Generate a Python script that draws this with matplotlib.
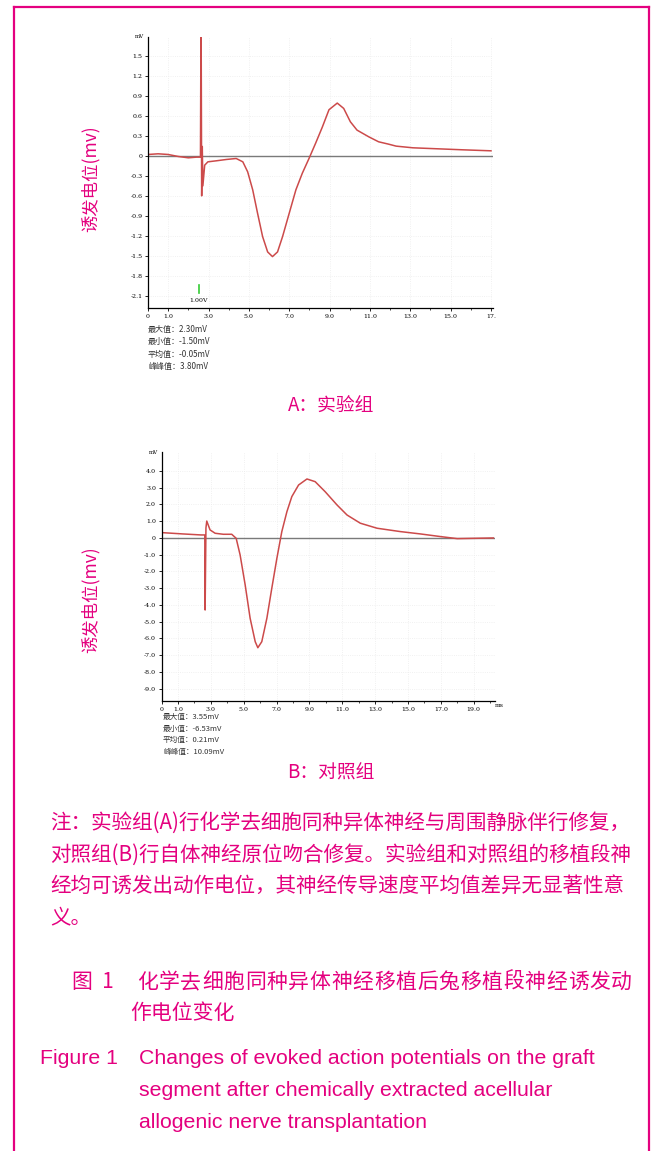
import numpy as np
import matplotlib
matplotlib.use("Agg")
import matplotlib.pyplot as plt
from matplotlib.lines import Line2D

plt.rcParams['font.family'] = ['Noto Sans CJK SC', 'DejaVu Sans']

# --- data ---
# A: experimental group
time_a = [0, 0.5, 1.0, 1.5, 2.0, 2.4, 2.6, 2.63, 2.66, 2.69, 2.72, 2.81, 2.97, 3.38, 3.88,
          4.37, 4.70, 4.94, 5.19, 5.43, 5.68, 5.93, 6.17, 6.42, 6.67, 7.0, 7.33, 7.65,
          7.98, 8.31, 8.64, 8.97, 9.38, 9.7, 10.03, 10.36, 10.94, 11.43, 11.92, 12.3,
          13.13, 13.95, 15.6, 17.0]
volt_a = [0.02, 0.03, 0.02, -0.01, -0.03, -0.02, -0.02, 2.30, -0.60, 0.14, -0.45, -0.14,
          -0.09, -0.075, -0.055, -0.04, -0.09, -0.24, -0.51, -0.86, -1.21, -1.44, -1.51,
          -1.44, -1.21, -0.86, -0.51, -0.26, -0.04, 0.19, 0.43, 0.69, 0.79, 0.71, 0.51,
          0.385, 0.285, 0.21, 0.175, 0.145, 0.12, 0.11, 0.09, 0.075]
yticks_a = [1.5, 1.2, 0.9, 0.6, 0.3, 0, -0.3, -0.6, -0.9, -1.2, -1.5, -1.8, -2.1]
xticks_a = [0, 1, 3, 5, 7, 9, 11, 13, 15, 17]
xlabels_a = ['0', '1.0', '3.0', '5.0', '7.0', '9.0', '11.0', '13.0', '15.0', '17.']
stats_a = ['最大值：2.30mV', '最小值：-1.50mV', '平均值：-0.05mV', '峰峰值：3.80mV']

# B: control group
time_b = [0, 1.3, 2.4, 2.63, 2.65, 2.7, 2.75, 2.95, 3.26, 3.76, 4.27, 4.54, 4.78, 5.09,
          5.39, 5.7, 5.86, 6.1, 6.41, 6.71, 7.02, 7.32, 7.63, 7.93, 8.34, 8.85, 9.35,
          9.96, 10.68, 11.29, 12.1, 13.12, 14.54, 15.76, 17.0, 18.0, 20.2]
volt_b = [0.32, 0.24, 0.18, 0.18, -4.3, 0.6, 1.01, 0.48, 0.28, 0.22, 0.22, -0.02, -1.01,
          -2.81, -4.79, -6.19, -6.55, -6.19, -4.79, -3.0, -1.21, 0.38, 1.57, 2.47, 3.16,
          3.52, 3.36, 2.76, 1.97, 1.37, 0.88, 0.58, 0.38, 0.24, 0.08, -0.04, 0.0]
yticks_b = [4, 3, 2, 1, 0, -1, -2, -3, -4, -5, -6, -7, -8, -9]
xticks_b = [0, 1, 3, 5, 7, 9, 11, 13, 15, 17, 19]
xlabels_b = ['0', '1.0', '3.0', '5.0', '7.0', '9.0', '11.0', '13.0', '15.0', '17.0', '19.0']
stats_b = ['最大值：3.55mV', '最小值：-6.53mV', '平均值：0.21mV', '峰峰值：10.09mV']

PINK = '#E4007F'
W, H = 653, 1151

fig = plt.figure(figsize=(W / 100, H / 100), dpi=100)


def fx(px):
    return px / W


def fy(py):
    return 1 - py / H


# page frame
for xs, ys in [([14, 14], [7, H + 5]), ([14, 649], [7, 7]), ([649, 649], [7, H + 5])]:
    fig.add_artist(Line2D([fx(x) for x in xs], [fy(y) for y in ys], color=PINK, lw=1.6))


def trace(box, t, v, ylim, xlim, yt, xt, xl, ylab_fmt):
    ax = fig.add_axes([fx(box[0]), fy(box[3]), fx(box[2] - box[0]), (box[3] - box[1]) / H])
    ax.axhline(0, color='#7a7a7a', lw=1.0, zorder=1)
    ax.plot(t, v, color='#cc4a4a', lw=1.1, zorder=2)
    ax.set_xlim(*xlim)
    ax.set_ylim(*ylim)
    for s in ['top', 'right']:
        ax.spines[s].set_visible(False)
    for s in ['left', 'bottom']:
        ax.spines[s].set_linewidth(0.9)
    ax.set_yticks(yt)
    ax.set_yticklabels([ylab_fmt(y) for y in yt], family='DejaVu Serif', fontsize=4.5)
    ax.set_xticks(xt)
    ax.set_xticklabels(xl, family='DejaVu Serif', fontsize=4.5)
    ax.set_xticks(np.arange(0, xlim[1], 1.0), minor=True)
    ax.tick_params(length=2, width=0.6, pad=2)
    ax.tick_params(which='minor', length=1.5, width=0.5)
    ax.grid(True, color='#ececec', ls=':', lw=0.6)
    ax.set_axisbelow(True)
    ax.text(-0.012, 1.0, 'mV', transform=ax.transAxes, ha='right', va='center',
            fontsize=4, family='DejaVu Serif')
    return ax


ax_a = trace((148, 37, 493, 308), time_a, volt_a, (-2.28, 1.78), (0, 17.1),
             yticks_a, xticks_a, xlabels_a, lambda y: '0' if y == 0 else f'{y:.1f}')
ax_a.plot([2.51, 2.51], [-1.94, -2.06], color='#33cc33', lw=1.2)
ax_a.text(2.51, -2.13, '1.00V', ha='center', va='top', fontsize=4.5, family='DejaVu Serif')

ax_b = trace((161.6, 452, 495, 701), time_b, volt_b, (-9.73, 5.13), (0, 20.3),
             yticks_b, xticks_b, xlabels_b, lambda y: '0' if y == 0 else f'{y:.1f}')
ax_b.text(1.0, -0.01, 'ms', transform=ax_b.transAxes, ha='left', va='top',
          fontsize=4.5, family='DejaVu Serif')

# stats blocks
for i, s in enumerate(stats_a):
    fig.text(fx(148), fy(329 + i * 12.5), s, fontsize=5.8, va='center', color='#333333')
for i, s in enumerate(stats_b):
    fig.text(fx(163), fy(717 + i * 11.7), s, fontsize=5.5, va='center', color='#333333')

# y labels and panel captions
fig.text(fx(90), fy(179), '诱发电位(mv)', rotation=90, ha='center', va='center',
         fontsize=12.5, color=PINK)
fig.text(fx(90), fy(600), '诱发电位(mv)', rotation=90, ha='center', va='center',
         fontsize=12.5, color=PINK)
fig.text(fx(331), fy(406), 'A：实验组', ha='center', va='center', fontsize=13.5, color=PINK)
fig.text(fx(331), fy(773), 'B：对照组', ha='center', va='center', fontsize=13.5, color=PINK)

# notes
notes = ['注：实验组(A)行化学去细胞同种异体神经与周围静脉伴行修复，',
         '对照组(B)行自体神经原位吻合修复。实验组和对照组的移植段神',
         '经均可诱发出动作电位，其神经传导速度平均值差异无显著性意',
         '义。']
for i, line in enumerate(notes):
    fig.text(fx(50), fy(823 + i * 31.6), line, fontsize=14.8, va='center', color=PINK)

# Chinese figure caption, first line spread to the full width
cap1 = '化学去细胞同种异体神经移植后兔移植段神经诱发动'
fig.text(fx(72), fy(982), '图  1', fontsize=15, va='center', color=PINK)
step = (632 - 137) / len(cap1)
for i, ch in enumerate(cap1):
    fig.text(fx(137 + step * (i + 0.5)), fy(982), ch, fontsize=15, ha='center',
             va='center', color=PINK)
fig.text(fx(130), fy(1013), '作电位变化', fontsize=15, va='center', color=PINK)

eng = ['Changes of evoked action potentials on the graft',
       'segment after chemically extracted acellular',
       'allogenic nerve transplantation']
fig.text(fx(40), fy(1058), 'Figure 1', fontsize=15.3, va='center', color=PINK,
         family='Liberation Sans')
for i, line in enumerate(eng):
    fig.text(fx(139), fy(1058 + i * 32), line, fontsize=15.3, va='center', color=PINK,
             family='Liberation Sans')

fig.savefig('out.png', dpi=100)
